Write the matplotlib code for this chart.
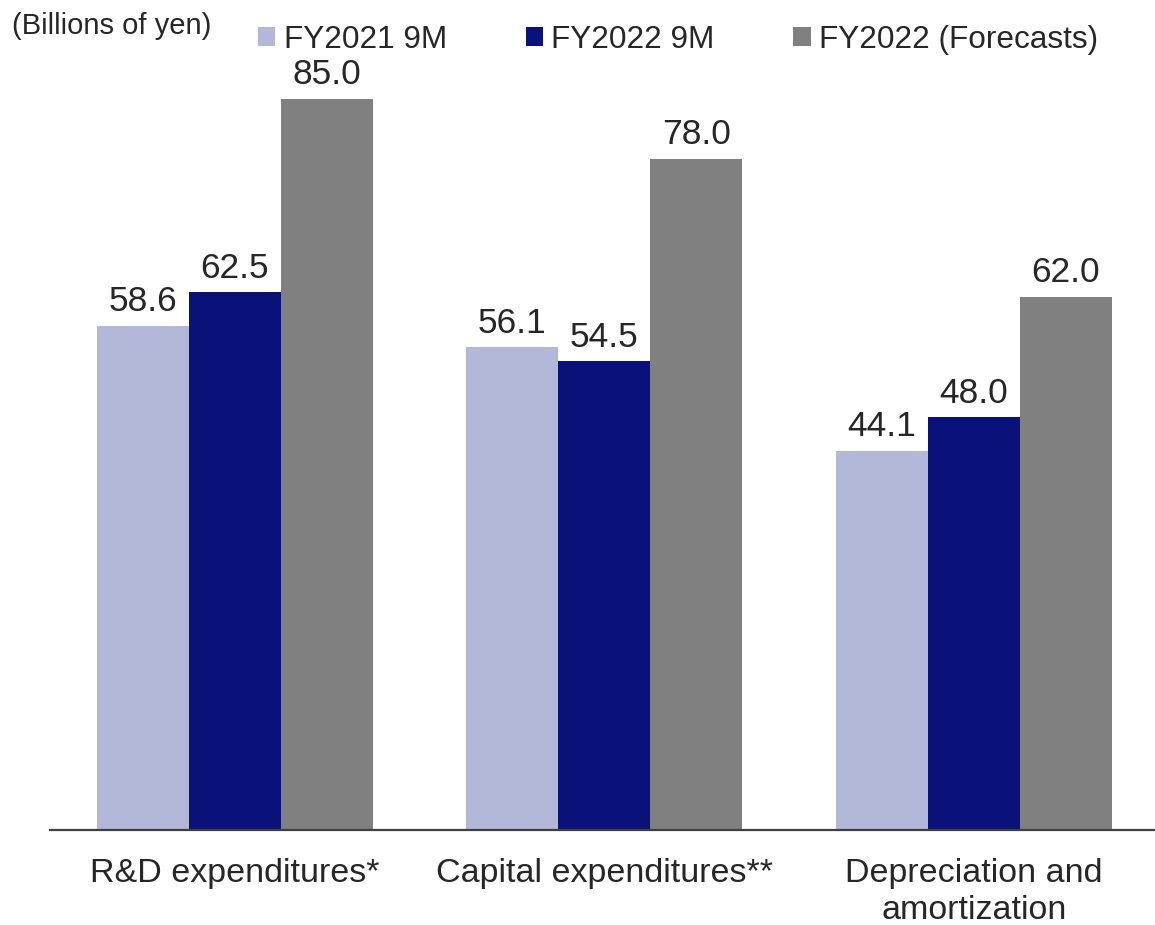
import matplotlib.pyplot as plt
import numpy as np

plt.rcParams['font.family'] = ['Liberation Sans', 'DejaVu Sans']

# Data
categories = ['R&D expenditures*', 'Capital expenditures**', 'Depreciation and\namortization']
series_names = ['FY2021 9M', 'FY2022 9M', 'FY2022 (Forecasts)']
fy2021_9m = [58.6, 56.1, 44.1]
fy2022_9m = [62.5, 54.5, 48.0]
fy2022_fc = [85.0, 78.0, 62.0]

colors = ['#b3b8d9', '#0a1178', '#808080']
text_color = '#262626'

fig = plt.figure(figsize=(11.55, 9.25), dpi=100)
ax = fig.add_axes([50 / 1155, 95 / 925, 1105 / 1155, 830 / 925])

x = np.arange(len(categories))
width = 0.249
bars = []
for i, (vals, name, c) in enumerate(zip([fy2021_9m, fy2022_9m, fy2022_fc], series_names, colors)):
    b = ax.bar(x + (i - 1) * width, vals, width, color=c, label=name)
    ax.bar_label(b, labels=[f'{v:.1f}' for v in vals], padding=5.5,
                 fontsize=25.5, color=text_color)
    bars.append(b)

ax.set_xlim(-0.5, 2.49)
ax.set_ylim(0, 96.5)

for s in ['top', 'right', 'left']:
    ax.spines[s].set_visible(False)
ax.spines['bottom'].set_color('#404040')
ax.spines['bottom'].set_linewidth(1.6)
ax.set_yticks([])
ax.set_xticks(x)
ax.set_xticklabels(categories, fontsize=24.5, color=text_color, linespacing=1.28)
ax.tick_params(axis='x', length=0, pad=20)

fig.text(12 / 1155, 1 - 12 / 925, '(Billions of yen)', fontsize=21,
         color=text_color, ha='left', va='top')

fig.legend(handles=bars, labels=series_names, loc='upper left',
           bbox_to_anchor=(258 / 1155, 1 - 25 / 925), ncol=3, frameon=False,
           fontsize=22.7, handlelength=0.55, handleheight=0.55,
           handletextpad=0.26, columnspacing=2.5, borderpad=0,
           borderaxespad=0, labelcolor=text_color)

plt.savefig('out.png', dpi=100)
